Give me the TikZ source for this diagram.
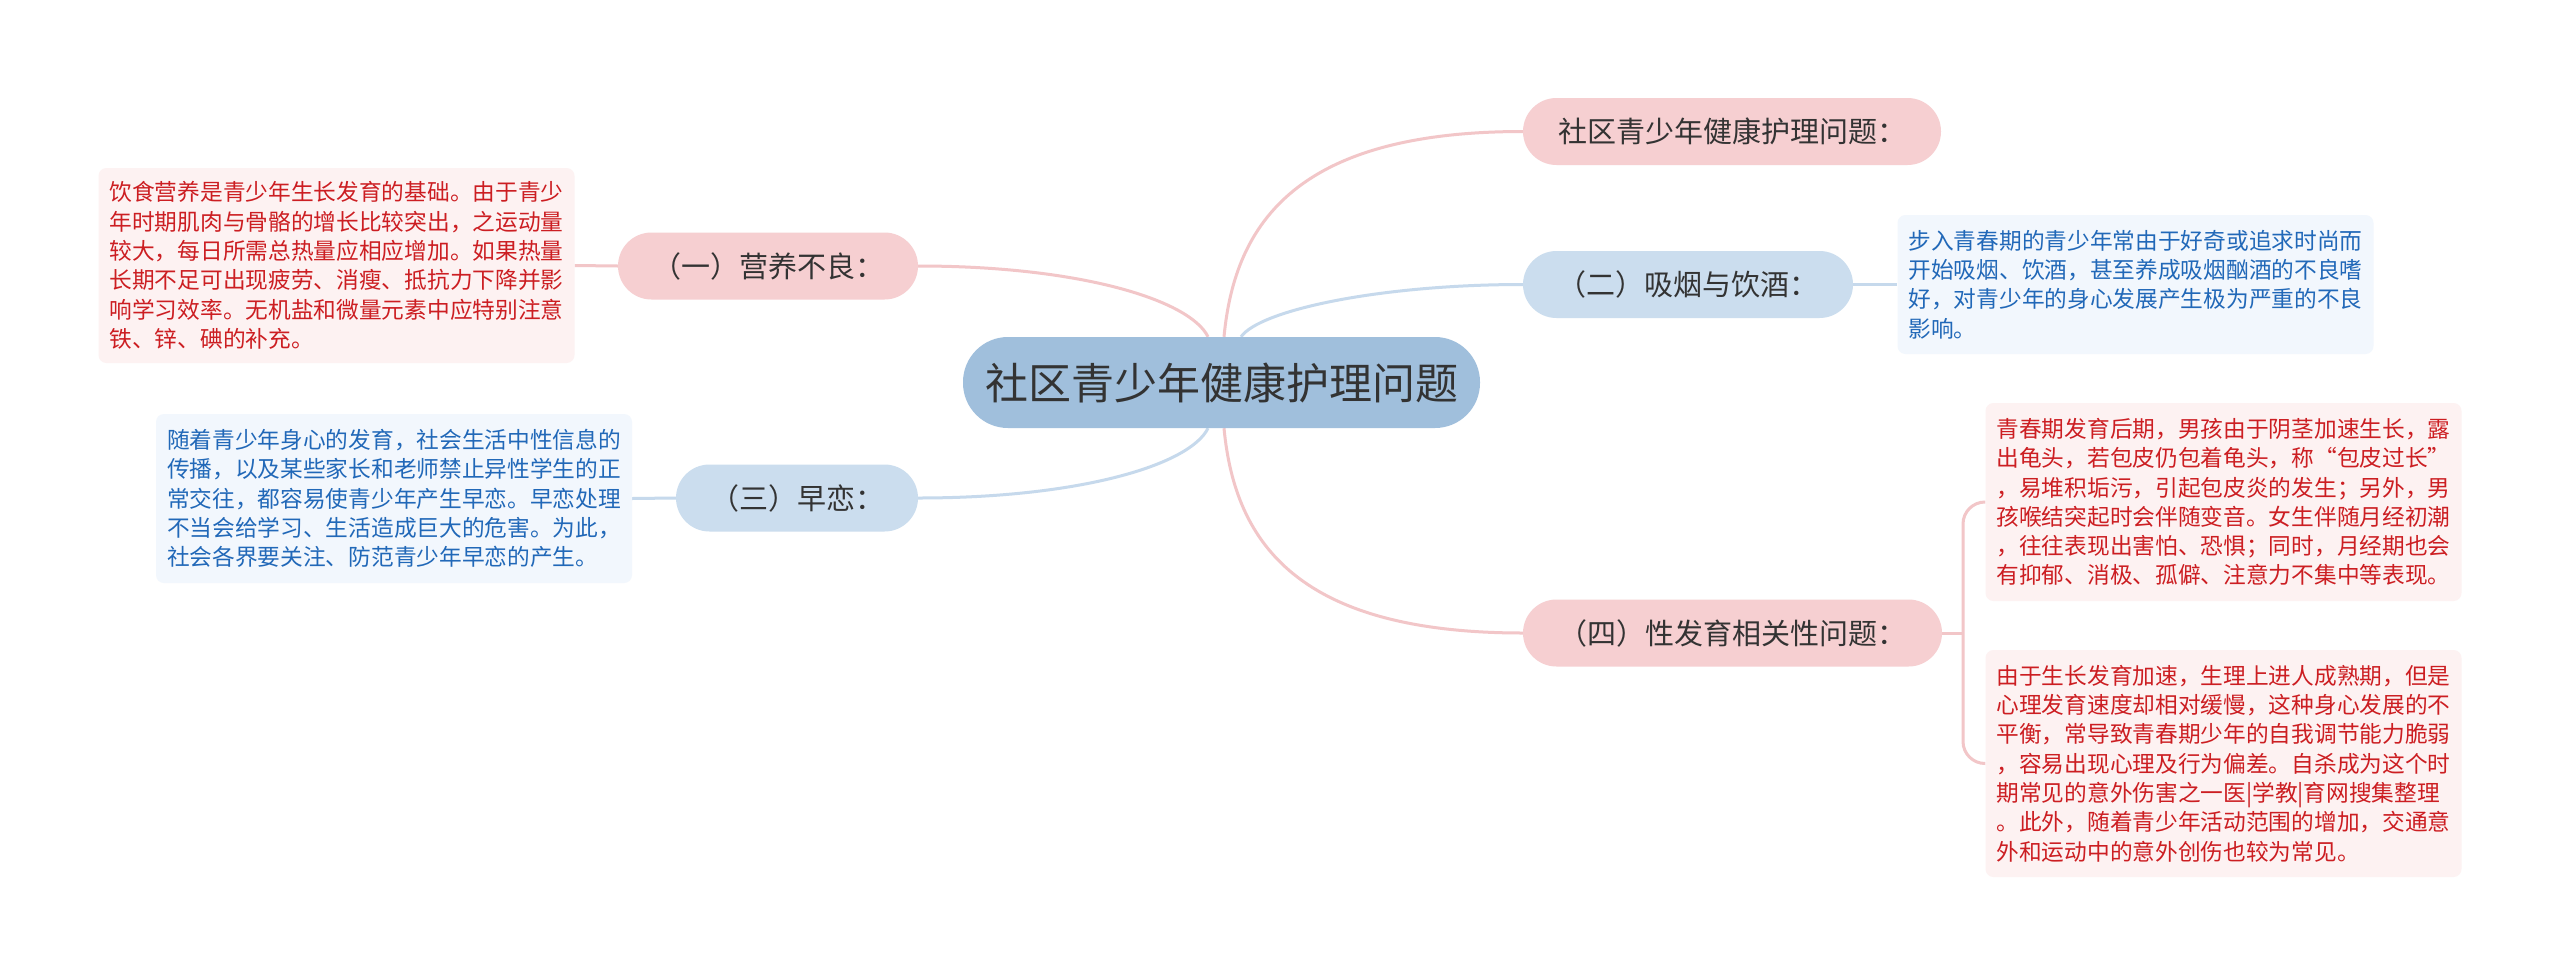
\documentclass[tikz,border=0pt]{standalone}
\usepackage{fontspec}
\setmainfont{Noto Sans CJK SC}
\usetikzlibrary{backgrounds}
\definecolor{pillR}{RGB}{246,207,209}
\definecolor{pillB}{RGB}{203,221,238}
\definecolor{pillC}{RGB}{160,191,220}
\definecolor{lineR}{RGB}{242,198,200}
\definecolor{lineB}{RGB}{198,217,236}
\definecolor{boxR}{RGB}{253,242,242}
\definecolor{boxB}{RGB}{242,247,253}
\definecolor{txtR}{RGB}{204,30,34}
\definecolor{txtB}{RGB}{33,104,184}
\definecolor{txtD}{RGB}{51,51,51}
\begin{document}
\begin{tikzpicture}[x=1pt,y=-1pt,
  pill/.style={rectangle,rounded corners=33.5pt,minimum height=67pt,inner sep=0pt,text=txtD,font=\fontsize{29}{34}\selectfont},
  pillr/.style={pill,fill=pillR},
  pillb/.style={pill,fill=pillB},
  central/.style={rectangle,rounded corners=45pt,minimum height=91pt,minimum width=517pt,inner sep=0pt,fill=pillC,text=txtD,font=\fontsize{43}{50}\selectfont},
  desc/.style={rectangle,rounded corners=8pt,minimum width=476pt,inner sep=0pt,align=left,font=\fontsize{22.7}{29.3}\selectfont},
  descr/.style={desc,fill=boxR,text=txtR},
  descb/.style={desc,fill=boxB,text=txtB},
  conR/.style={draw=lineR,line width=3pt},
  conB/.style={draw=lineB,line width=3pt}
]
\useasboundingbox (0,0) rectangle (2560,975);

% central
\node[central] (c) at (1221.5,382.5) {社区青少年健康护理问题};

% first level
\node[pillr,minimum width=418pt] (n0) at (1732,131.5) {社区青少年健康护理问题：};
\node[pillb,minimum width=330pt] (n2) at (1688,284.5) {（二）吸烟与饮酒：};
\node[pillr,minimum width=419pt] (n4) at (1732.5,633) {（四）性发育相关性问题：};
\node[pillr,minimum width=300pt] (n1) at (768,266) {（一）营养不良：};
\node[pillb,minimum width=242pt] (n3) at (797,498) {（三）早恋：};

% descriptions
\node[descr,minimum height=195pt] (d1) at (336.5,265.5) {饮食营养是青少年生长发育的基础。由于青少\\年时期肌肉与骨骼的增长比较突出，之运动量\\较大，每日所需总热量应相应增加。如果热量\\长期不足可出现疲劳、消瘦、抵抗力下降并影\\响学习效率。无机盐和微量元素中应特别注意\\铁、锌、碘的补充。};
\node[descb,minimum height=169pt] (d3) at (394,498.5) {随着青少年身心的发育，社会生活中性信息的\\传播，以及某些家长和老师禁止异性学生的正\\常交往，都容易使青少年产生早恋。早恋处理\\不当会给学习、生活造成巨大的危害。为此，\\社会各界要关注、防范青少年早恋的产生。};
\node[descb,minimum height=139pt] (d2) at (2135.5,284.5) {步入青春期的青少年常由于好奇或追求时尚而\\开始吸烟、饮酒，甚至养成吸烟酗酒的不良嗜\\好，对青少年的身心发展产生极为严重的不良\\影响。};
\node[descr,minimum height=198pt] (d4a) at (2223.5,502) {青春期发育后期，男孩由于阴茎加速生长，露\\出龟头，若包皮仍包着龟头，称“包皮过长”\\，易堆积垢污，引起包皮炎的发生；另外，男\\孩喉结突起时会伴随变音。女生伴随月经初潮\\，往往表现出害怕、恐惧；同时，月经期也会\\有抑郁、消极、孤僻、注意力不集中等表现。};
\node[descr,minimum height=227pt] (d4b) at (2223.5,763.5) {由于生长发育加速，生理上进人成熟期，但是\\心理发育速度却相对缓慢，这种身心发展的不\\平衡，常导致青春期少年的自我调节能力脆弱\\，容易出现心理及行为偏差。自杀成为这个时\\期常见的意外伤害之一医|学教|育网搜集整理\\。此外，随着青少年活动范围的增加，交通意\\外和运动中的意外创伤也较为常见。};

\begin{scope}[on background layer]
\fill[white] (0,0) rectangle (2560,975);
\coordinate (cN0) at ([xshift=2.5pt]c.north);
\coordinate (cN2) at ([xshift=19.5pt]c.north);
\coordinate (cN1) at ([xshift=-13.5pt]c.north);
\coordinate (cS3) at ([xshift=-13.5pt]c.south);
\coordinate (cS4) at ([xshift=2.5pt]c.south);
% curves from central
\draw[conR] (cN0) .. controls (1235,220) and (1300,131.5) .. (n0.west);
\draw[conB] (cN2) .. controls (1260,310) and (1380,284.5) .. (n2.west);
\draw[conR] (cN1) .. controls (1190,300) and (1080,266) .. (n1.east);
\draw[conB] (cS3) .. controls (1190,465) and (1080,498) .. (n3.east);
\draw[conR] (cS4) .. controls (1235,545) and (1300,633) .. (n4.west);
% description links
\draw[conR] (n1.west) -- (d1.east);
\draw[conB] (n3.west) -- (d3.east);
\draw[conB] (n2.east) -- (d2.west);
\coordinate (br) at (1963,633);
\draw[conR] (n4.east) -- (br);
\draw[conR,rounded corners=22pt] (d4a.west) -| (br) |- (d4b.west);
\end{scope}
\end{tikzpicture}
\end{document}
